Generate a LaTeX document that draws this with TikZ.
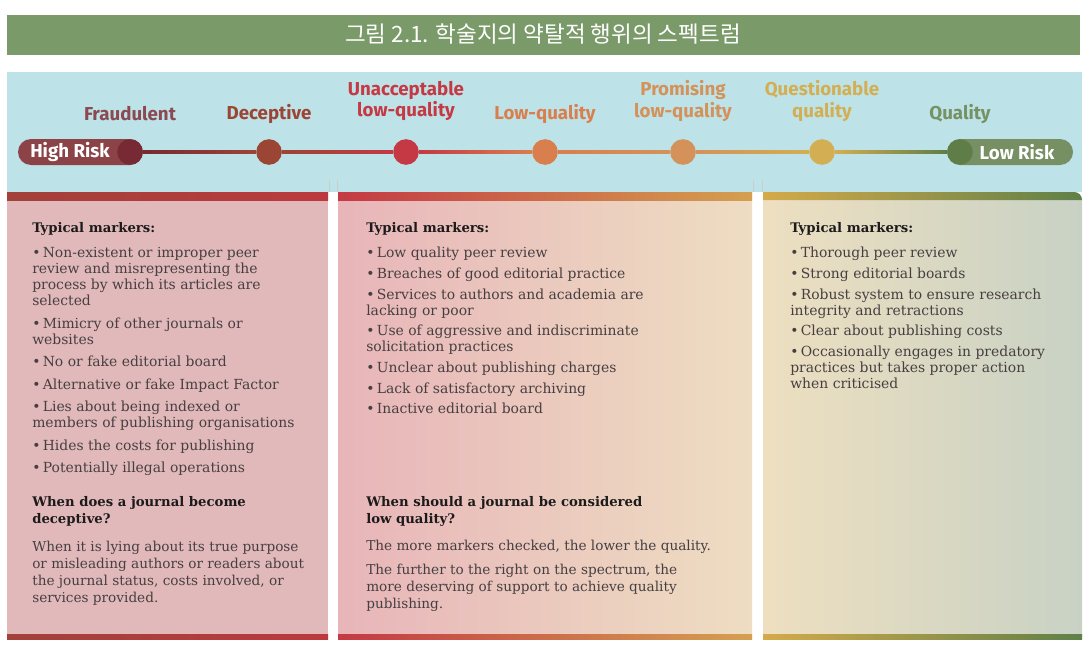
\documentclass[tikz,border=0pt]{standalone}
\usepackage{fontspec}
\setmainfont{DejaVu Serif}
\setsansfont{Fira Sans}
\newfontfamily\krfont{Noto Sans CJK KR}
\usetikzlibrary{positioning}

\definecolor{titlegreen}{HTML}{7B9A69}
\definecolor{bandblue}{HTML}{BDE3E8}
\definecolor{cFra}{HTML}{772A34}
\definecolor{cDec}{HTML}{9B4535}
\definecolor{cUna}{HTML}{C53944}
\definecolor{cLow}{HTML}{D97F4E}
\definecolor{cPro}{HTML}{D4925A}
\definecolor{cQue}{HTML}{D3AE52}
\definecolor{cQua}{HTML}{5E7D47}
\definecolor{pillred}{HTML}{8C4347}
\definecolor{pillgreen}{HTML}{768F63}
\definecolor{headcol}{HTML}{1C1A1A}
\definecolor{bodycol}{HTML}{463F41}

\newcommand{\bul}{\textbullet\,}

\tikzset{
  lab/.style={font=\sffamily\bfseries\fontsize{13.3}{15}\selectfont, align=center},
  dot/.style={circle, inner sep=0pt, minimum size=0.64cm},
  risk/.style={font=\sffamily\bfseries\fontsize{13.3}{15}\selectfont, text=white},
  hd/.style={anchor=north west, inner sep=0pt, align=left, text=headcol,
    font=\bfseries\fontsize{9.4}{12}\selectfont},
  txt/.style={anchor=north west, inner sep=0pt, align=left, text=bodycol,
    font=\fontsize{9.9}{11.4}\selectfont},
  ans/.style={txt, font=\fontsize{9.7}{12}\selectfont}
}

\begin{document}
\begin{tikzpicture}[x=0.025cm,y=-0.025cm]
\useasboundingbox (0,0) rectangle (1085,650);

% title
\fill[titlegreen] (7,15) rectangle (1080,55);
\node (title) at (543,34) [text=white, font=\krfont\fontsize{16}{18}\selectfont]{그림 2.1. 학술지의 약탈적 행위의 스펙트럼};

% band
\fill[bandblue] (7,72) rectangle (1082,192);
\draw[gray!40, very thin] (329,180)--(329,192);
\draw[gray!40, very thin] (337,180)--(337,192);
\draw[gray!40, very thin] (753,180)--(753,192);
\draw[gray!40, very thin] (762,180)--(762,192);

% pills
\fill[pillred, rounded corners=13*0.025cm] (18,139) rectangle (143,165);
\fill[pillgreen, rounded corners=13*0.025cm] (947,139) rectangle (1073,165);

\node[dot, fill=cFra] (dFra) at (130,152) {};
\node[dot, fill=cDec] (dDec) at (269,152) {};
\node[dot, fill=cUna] (dUna) at (406,152) {};
\node[dot, fill=cLow] (dLow) at (545,152) {};
\node[dot, fill=cPro] (dPro) at (683,152) {};
\node[dot, fill=cQue] (dQue) at (822,152) {};
\node[dot, fill=cQua] (dQua) at (960,152) {};

% line
\shade[left color=cFra, right color=cDec] ([yshift=-1.1pt]dFra.east) rectangle ([yshift=1.1pt]dDec.west);
\shade[left color=cDec, right color=cUna] ([yshift=-1.1pt]dDec.east) rectangle ([yshift=1.1pt]dUna.west);
\shade[left color=cUna, right color=cLow] ([yshift=-1.1pt]dUna.east) rectangle ([yshift=1.1pt]dLow.west);
\shade[left color=cLow, right color=cPro] ([yshift=-1.1pt]dLow.east) rectangle ([yshift=1.1pt]dPro.west);
\shade[left color=cPro, right color=cQue] ([yshift=-1.1pt]dPro.east) rectangle ([yshift=1.1pt]dQue.west);
\shade[left color=cQue, right color=cQua] ([yshift=-1.1pt]dQue.east) rectangle ([yshift=1.1pt]dQua.west);

\node[risk] (high) at (70,152) {High Risk};
\node[risk] (low) at (1017,152) {Low Risk};

% labels
\node[lab, text=cFra!85!white] (lFra) at (130,114) {Fraudulent};
\node[lab, text=cDec] (lDec) at (269,114) {Deceptive};
\node[lab, text=cUna] (lUna) at (406,101) {Unacceptable\\low-quality};
\node[lab, text=cLow] (lLow) at (545,114) {Low-quality};
\node[lab, text=cPro] (lPro) at (683,101) {Promising\\low-quality};
\node[lab, text=cQue] (lQue) at (822,101) {Questionable\\quality};
\node[lab, text=cQua!85!white] (lQua) at (960,114) {Quality};

% panels
\fill[color={rgb,255:red,226;green,185;blue,187}] (7,192) rectangle (328,638);
\shade[left color={rgb,255:red,232;green,181;blue,185}, middle color={rgb,255:red,240;green,210;blue,196}, right color={rgb,255:red,238;green,221;blue,194}] (338,192) rectangle (752,638);
\shade[left color={rgb,255:red,238;green,223;blue,192}, middle color={rgb,255:red,226;green,220;blue,194}, right color={rgb,255:red,200;green,210;blue,196}] (763,192) [rounded corners=8*0.025cm] -- (1082,192) [sharp corners] -- (1082,638) -- (763,638) -- cycle;

% stripes
\shade[left color={rgb,255:red,162;green,64;blue,58}, right color={rgb,255:red,188;green,58;blue,62}] (7,192) rectangle (328,200);
\shade[left color=cUna, middle color=cLow, right color={rgb,255:red,212;green,160;blue,80}] (338,192) rectangle (752,200);
\shade[left color={rgb,255:red,212;green,170;blue,74}, middle color={rgb,255:red,168;green,154;blue,80}, right color={rgb,255:red,95;green,128;blue,72}] (763,192) [rounded corners=8*0.025cm] -- (1082,192) [sharp corners] -- (1082,200) -- (763,200) -- cycle;
\shade[left color={rgb,255:red,162;green,64;blue,58}, right color={rgb,255:red,188;green,58;blue,62}] (7,634) rectangle (328,639);
\shade[left color=cUna, middle color=cLow, right color={rgb,255:red,212;green,160;blue,80}] (338,634) rectangle (752,639);
\shade[left color={rgb,255:red,212;green,170;blue,74}, middle color={rgb,255:red,168;green,154;blue,80}, right color={rgb,255:red,95;green,128;blue,72}] (763,634) rectangle (1082,639);

% panel 1
\node[hd] (h1) at (32,222) {Typical markers:};
\node[txt] (m1) at (32,247) {\bul Non-existent or improper peer\\review and misrepresenting the\\process by which its articles are\\selected\\[4.6pt]
\bul Mimicry of other journals or\\websites\\[4.6pt]
\bul No or fake editorial board\\[4.6pt]
\bul Alternative or fake Impact Factor\\[4.6pt]
\bul Lies about being indexed or\\members of publishing organisations\\[4.6pt]
\bul Hides the costs for publishing\\[4.6pt]
\bul Potentially illegal operations};
\node[hd] (q1) at (32,496) {When does a journal become\\deceptive?};
\node[ans] (a1) at (32,541) {When it is lying about its true purpose\\or misleading authors or readers about\\the journal status, costs involved, or\\services provided.};

% panel 2
\node[hd] (h2) at (366,222) {Typical markers:};
\node[txt] (m2) at (366,247) {\bul Low quality peer review\\[3.3pt]
\bul Breaches of good editorial practice\\[3.3pt]
\bul Services to authors and academia are\\lacking or poor\\[3.3pt]
\bul Use of aggressive and indiscriminate\\solicitation practices\\[3.3pt]
\bul Unclear about publishing charges\\[3.3pt]
\bul Lack of satisfactory archiving\\[3.3pt]
\bul Inactive editorial board};
\node[hd] (q2) at (366,496) {When should a journal be considered\\low quality?};
\node[ans] (a2) at (366,540) {The more markers checked, the lower the quality.\\[5pt]
The further to the right on the spectrum, the\\more deserving of support to achieve quality\\publishing.};

% panel 3
\node[hd] (h3) at (790,222) {Typical markers:};
\node[txt] (m3) at (790,247) {\bul Thorough peer review\\[3.3pt]
\bul Strong editorial boards\\[3.3pt]
\bul Robust system to ensure research\\integrity and retractions\\[3.3pt]
\bul Clear about publishing costs\\[3.3pt]
\bul Occasionally engages in predatory\\practices but takes proper action\\when criticised};

\end{tikzpicture}
\end{document}
